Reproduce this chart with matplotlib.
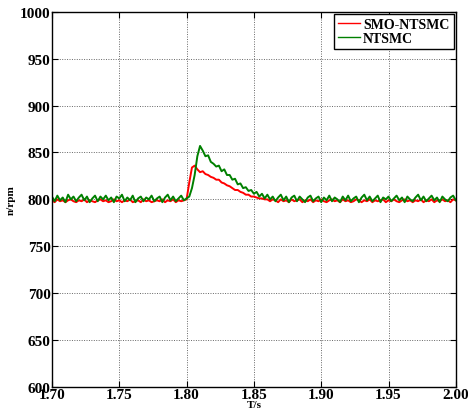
import numpy as np
import matplotlib
matplotlib.use('Agg')
import matplotlib.pyplot as plt

# speed response, 1.700 .. 2.000 s sampled every 2 ms (151 samples)
smo_ntsmc = [
    799, 797, 800, 798, 799, 797, 799, 800, 798, 797,
    799, 798, 800, 797, 799, 798, 797, 799, 800, 798,
    799, 797, 798, 800, 798, 799, 797, 799, 798, 800,
    797, 798, 799, 797, 800, 798, 799, 797, 798, 799,
    798, 800, 797, 799, 798, 800, 797, 799, 798, 799,
    800, 818, 834, 836, 832, 829, 830, 827, 826, 824,
    823, 821, 821, 818, 817, 815, 814, 812, 810, 810,
    808, 807, 805, 805, 803, 803, 802, 801, 801, 800,
    800,
    798, 800, 799, 797, 800, 798, 799, 797, 800, 798,
    799, 800, 797, 799, 798, 800, 797, 799, 798, 800,
    798, 797, 799, 800, 798, 799, 797, 800, 798, 799,
    797, 798, 800, 799, 797, 799, 798, 800, 797, 799,
    798, 799, 800, 797, 799, 798, 800, 798, 797, 799,
    800, 798, 799, 797, 799, 798, 800, 797, 799, 798,
    800, 797, 799, 798, 800, 798, 799, 797, 800, 799,
]

ntsmc = [
    803, 798, 804, 799, 802, 797, 805, 800, 803, 798,
    802, 805, 799, 803, 797, 801, 804, 798, 803, 800,
    804, 799, 802, 797, 803, 801, 805, 798, 802, 799,
    804, 797, 801, 803, 798, 802, 800, 804, 798, 801,
    803, 797, 802, 805, 799, 803, 798, 801, 804, 799,
    801, 803, 812, 826, 846, 857, 852, 846, 847, 840,
    838, 835, 836, 830, 832, 826, 826, 821, 822, 816,
    817, 812, 813, 809, 810, 806, 808, 803, 806, 801,
    805, 800, 803,
    798, 802, 805, 799, 803, 797, 802, 804, 798, 803,
    800, 797, 802, 804, 798, 801, 803, 797, 802, 799,
    804, 798, 802, 800, 797, 803, 799, 804, 798, 801,
    803, 797, 802, 805, 799, 803, 798, 801, 804, 797,
    802, 800, 803, 798, 801, 804, 799, 802, 797, 803,
    800, 798, 802, 805, 799, 803, 798, 801, 804, 799,
    802, 797, 803, 800, 798, 802, 804, 799,
]

t = np.linspace(1.70, 2.00, len(smo_ntsmc))

x_ticks = [1.70, 1.75, 1.80, 1.85, 1.90, 1.95, 2.00]
y_ticks = [600, 650, 700, 750, 800, 850, 900, 950, 1000]

plt.rcParams['font.family'] = ['Liberation Serif', 'DejaVu Serif']
plt.rcParams['font.weight'] = 'bold'

fig = plt.figure(figsize=(4.68, 4.14), dpi=100)
ax = fig.add_axes([0.111, 0.063, 0.863, 0.906])

ax.plot(t, smo_ntsmc, color='#ff0000', lw=1.4, label='SMO-NTSMC')
ax.plot(np.linspace(1.70, 2.00, len(ntsmc)), ntsmc, color='#008000',
        lw=1.4, label='NTSMC')

ax.set_xlim(1.70, 2.00)
ax.set_ylim(600, 1000)
ax.set_xticks(x_ticks)
ax.set_xticklabels([f'{v:.2f}' for v in x_ticks])
ax.set_yticks(y_ticks)
ax.grid(True, color='0.4', linestyle=(0, (1, 1.5)), linewidth=0.7)

ax.tick_params(direction='in', length=4, width=0.8, top=True, right=True,
               labelsize=11, pad=1)
for lbl in ax.get_xticklabels() + ax.get_yticklabels():
    lbl.set_fontweight('bold')
for sp in ax.spines.values():
    sp.set_linewidth(1.0)

ax.set_xlabel('T/s', fontsize=8, fontweight='bold', labelpad=-1)
ax.set_ylabel('n/rpm', fontsize=8, fontweight='bold', labelpad=3)

leg = ax.legend(loc='upper right', fontsize=10, borderaxespad=0.15,
                handlelength=1.6, handletextpad=0.2, labelspacing=0.05,
                borderpad=0.3, fancybox=False, framealpha=1)
leg.get_frame().set_edgecolor('black')
leg.get_frame().set_linewidth(1.0)
for line in leg.get_lines():
    line.set_linewidth(1.0)
for txt in leg.get_texts():
    txt.set_fontweight('bold')

fig.savefig('out.png', dpi=100)
